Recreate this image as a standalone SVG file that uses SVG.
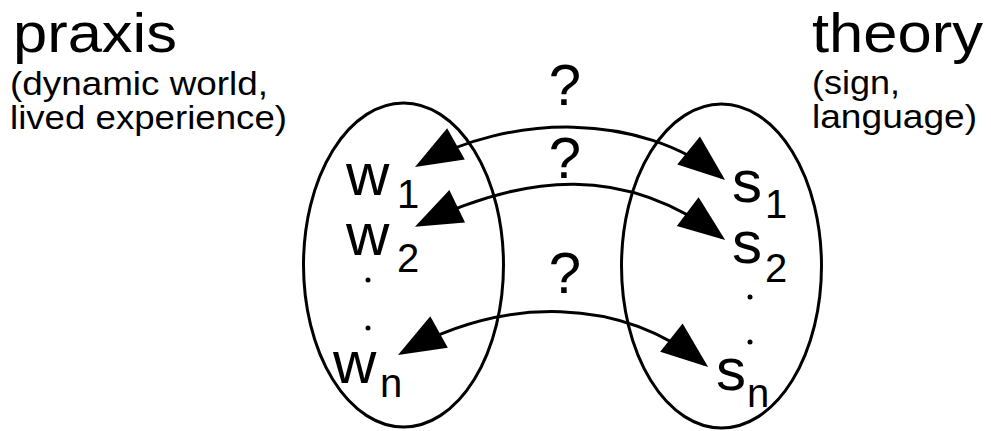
<svg xmlns="http://www.w3.org/2000/svg" width="991" height="431" viewBox="0 0 991 431">
<style>
text{font-family:"Liberation Sans",Arial,sans-serif;fill:#000}
.big{font-size:56px}
.small{font-size:33px}
.lab{font-size:60px}
.sub{font-size:40px}
.q{font-size:58px;text-anchor:middle}
.ell{fill:none;stroke:#000;stroke-width:3}
.con{fill:none;stroke:#000;stroke-width:3;marker-start:url(#ah);marker-end:url(#ah)}
.dot{fill:#000}
</style>
<defs>
<marker id="ah" markerUnits="userSpaceOnUse" viewBox="-46 -20 52 40" refX="0" refY="0" markerWidth="52" markerHeight="40" orient="auto-start-reverse">
<path d="M4,0 L-43,-18 L-43,18 Z" fill="#000"/>
</marker>
</defs>
<g id="praxis-title">
<text class="big" x="13" y="52" textLength="164" lengthAdjust="spacingAndGlyphs">praxis</text>
<text class="small" x="10" y="95" textLength="258" lengthAdjust="spacingAndGlyphs">(dynamic world,</text>
<text class="small" x="10" y="129" textLength="277" lengthAdjust="spacingAndGlyphs">lived experience)</text>
</g>
<g id="theory-title">
<text class="big" x="812" y="52" textLength="171" lengthAdjust="spacingAndGlyphs">theory</text>
<text class="small" x="812" y="94" textLength="88" lengthAdjust="spacingAndGlyphs">(sign,</text>
<text class="small" x="812" y="128" textLength="165" lengthAdjust="spacingAndGlyphs">language)</text>
</g>
<g id="praxis-set">
<ellipse class="ell" cx="403.5" cy="265" rx="100" ry="162"/>
<text class="lab" x="346" y="195">w</text><text class="sub" x="397" y="208">1</text>
<text class="lab" x="346" y="255">w</text><text class="sub" x="397" y="272">2</text>
<circle class="dot" cx="368" cy="280" r="2.5"/>
<circle class="dot" cx="368" cy="328" r="2.5"/>
<text class="lab" x="333" y="383">w</text><text class="sub" x="380" y="397">n</text>
</g>
<g id="theory-set">
<ellipse class="ell" cx="721.5" cy="266" rx="100" ry="162"/>
<text class="lab" x="732" y="202">s</text><text class="sub" x="765" y="218">1</text>
<text class="lab" x="732" y="263">s</text><text class="sub" x="765" y="282">2</text>
<circle class="dot" cx="750" cy="297" r="2.5"/>
<circle class="dot" cx="750" cy="342" r="2.5"/>
<text class="lab" x="716" y="390">s</text><text class="sub" x="747" y="407">n</text>
</g>
<g id="connectors">
<path class="con" d="M418.5,165 C509,114 640,111 722,177.5"/>
<path class="con" d="M418.5,225 C526,173 625,164 722,237.5"/>
<path class="con" d="M401.5,353 C505.5,295 620.5,297 705,364.5"/>
<text class="q" x="565" y="105">?</text>
<text class="q" x="565" y="178">?</text>
<text class="q" x="565" y="293">?</text>
</g>
</svg>
